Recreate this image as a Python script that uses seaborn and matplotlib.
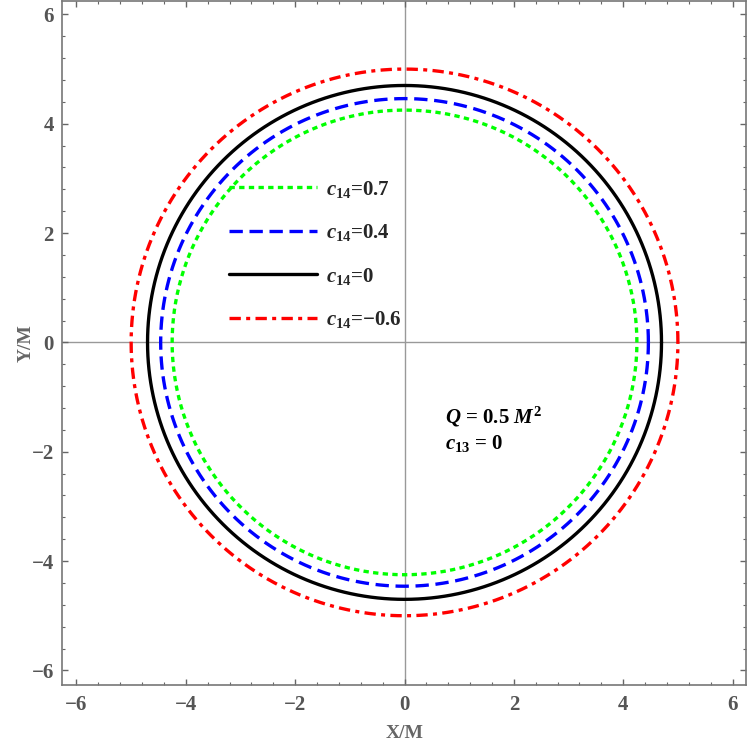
import numpy as np
import pandas as pd
import matplotlib
matplotlib.use("Agg")
import matplotlib.pyplot as plt
from matplotlib.ticker import MultipleLocator
import seaborn as sns

# shadow radii (units of M)
labels = ["$c_{14}$=0.7", "$c_{14}$=0.4", "$c_{14}$=0", "$c_{14}$=\u22120.6"]
radii = [4.25, 4.46, 4.70, 5.00]
colors = ["#00ff00", "#0000ff", "#000000", "#ff0000"]
dashes = [(1.6, 1.3), (4.0, 2.0), (), (3.4, 1.6, 1.2, 1.6)]

sns.set_theme(style="white")
plt.rcParams["font.family"] = ["Liberation Serif", "DejaVu Serif"]
plt.rcParams["font.weight"] = "bold"
plt.rcParams["mathtext.fontset"] = "custom"
plt.rcParams["mathtext.rm"] = "Liberation Serif:bold"
plt.rcParams["mathtext.it"] = "Liberation Serif:italic:bold"
plt.rcParams["mathtext.bf"] = "Liberation Serif:bold"

fig = plt.figure(figsize=(7.5, 7.48), dpi=100)
ax = fig.add_axes([0.083, 0.084, 0.912, 0.915])

theta = np.linspace(0, 2 * np.pi, 721)
ax.axhline(0, color="#999999", lw=1.0, zorder=0)
ax.axvline(0, color="#999999", lw=1.0, zorder=0)

for lab, r, c, d in zip(labels, radii, colors, dashes):
    df = pd.DataFrame({"x": r * np.cos(theta), "y": r * np.sin(theta)})
    sns.lineplot(data=df, x="x", y="y", sort=False, estimator=None, ax=ax,
                 color=c, lw=2.4, label=lab)
    if d:
        ax.lines[-1].set_dashes(d)

ax.set_xlim(-6.26, 6.25)
ax.set_ylim(-6.27, 6.25)
ax.xaxis.set_major_locator(MultipleLocator(2))
ax.yaxis.set_major_locator(MultipleLocator(2))
ax.xaxis.set_minor_locator(MultipleLocator(0.4))
ax.yaxis.set_minor_locator(MultipleLocator(0.4))
ax.tick_params(which="both", direction="in", top=True, right=True,
               bottom=True, left=True, colors="#666666", labelsize=15,
               labelcolor="#555555")
ax.tick_params(which="major", length=4.5, width=1)
ax.tick_params(which="minor", length=2.5, width=0.8)
ax.tick_params(axis="x", pad=7)
ax.tick_params(axis="y", pad=6)
for lbl in ax.get_xticklabels() + ax.get_yticklabels():
    lbl.set_fontweight("bold")
for sp in ax.spines.values():
    sp.set_color("#777777")
    sp.set_linewidth(1.2)

ax.set_xlabel("X/M", fontsize=14, color="#666666", fontweight="bold", labelpad=7)
ax.set_ylabel("Y/M", fontsize=14, color="#666666", fontweight="bold", labelpad=-2)

leg = ax.legend(loc="upper left", bbox_to_anchor=(0.244, 0.74), frameon=False,
                borderaxespad=0, borderpad=0, fontsize=15, handlelength=4.2,
                labelspacing=1.08, handletextpad=0.45)

ax.text(0.56, 0.383, "$Q$ = 0.5 $M^2$", transform=ax.transAxes, fontsize=15, color="black")
ax.text(0.56, 0.345, "$c_{13}$ = 0", transform=ax.transAxes, fontsize=15, color="black")

fig.savefig("out.png", dpi=100)
